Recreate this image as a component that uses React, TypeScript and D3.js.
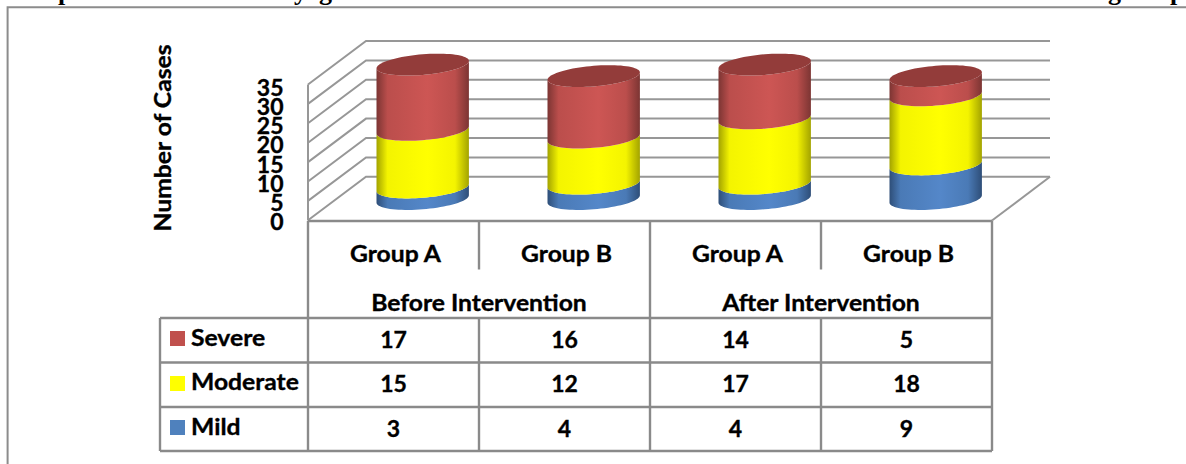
import React from "react";
import * as d3 from "d3";

const groups = ["Group A", "Group B", "Group A", "Group B"];
const phases = ["Before Intervention", "After Intervention"];
const mild = [3, 4, 4, 9];
const moderate = [15, 12, 17, 18];
const severe = [17, 16, 14, 5];
const yTicks = [0, 5, 10, 15, 20, 25, 30, 35];
const seriesNames = ["Severe", "Moderate", "Mild"];

const W = 1186, H = 464;
const INK = "#000";
const GRID = "#979797";
const FONT = "Lato, Carlito, sans-serif";

const x = d3.scaleBand<number>().domain([0, 1, 2, 3]).range([308, 992]).paddingInner(0).paddingOuter(0);
const y = d3.scaleLinear().domain([0, 35]).range([199, 64.6]);
const DX = 58, DY = 43.5; // 3D depth shift
const cylA = 46.2, cylB = 10.3, cylS = 3.7;

const palette: Record<string, { id: string; mid: string; edge: string; soft: string }> = {
  Mild: { id: "gMild", mid: "#5487c9", edge: "#2e4e78", soft: "#4a7ab6" },
  Moderate: { id: "gMod", mid: "#ffff00", edge: "#a3a300", soft: "#f4f400" },
  Severe: { id: "gSev", mid: "#cd5654", edge: "#7c3533", soft: "#bb4e4c" },
};

function rim(cx: number, cy: number, from: number, to: number, n = 40): [number, number][] {
  return d3.range(n + 1).map((i) => {
    const t = from + ((to - from) * i) / n;
    return [cx + cylA * Math.cos(t), cy - cylB * Math.sin(t) - cylS * Math.cos(t)] as [number, number];
  });
}
const line = d3.line();

function segment(cx: number, y0: number, y1: number) {
  const bottom = rim(cx, y0, Math.PI, 2 * Math.PI);
  const top = rim(cx, y1, 2 * Math.PI, Math.PI);
  return line([...bottom, ...top]) + "Z";
}

const tableRows = [
  { name: "Severe", values: severe, base: 347.6, labelBase: 345.6, sy: 331 },
  { name: "Moderate", values: moderate, base: 392.4, labelBase: 390.4, sy: 376 },
  { name: "Mild", values: mild, base: 436.6, labelBase: 434.8, sy: 420 },
];

const boldText = { fontFamily: FONT, fontWeight: "bold" as const, fill: INK, stroke: INK, strokeWidth: 0.35 };

function Stretched({ tx, ty, anchor = "middle", children }: { tx: number; ty: number; anchor?: "middle" | "start"; children: React.ReactNode }) {
  return (
    <text transform={`translate(${tx},${ty}) scale(1.05,1)`} textAnchor={anchor} fontSize={23.5} {...boldText}>
      {children}
    </text>
  );
}

export default function App() {
  const yBack = (v: number) => y(v) + (176.8 - 199) + (v / 35) * (-1.4);
  const rowLines = [318, 362.5, 407, 451];
  const colXs = [0, 1, 2, 3].map((i) => x(i)!);
  const right = x.range()[1];
  return (
    <svg width={W} height={H} viewBox={`0 0 ${W} ${H}`}
      style={{ position: "fixed", left: 0, top: 0, display: "block", background: "#fff" }}>
      <defs>
        {Object.values(palette).map((p) => (
          <linearGradient key={p.id} id={p.id} x1="0" x2="1" y1="0" y2="0">
            <stop offset="0" stopColor={p.edge} />
            <stop offset="0.12" stopColor={p.soft} />
            <stop offset="0.55" stopColor={p.mid} />
            <stop offset="0.85" stopColor={p.soft} />
            <stop offset="1" stopColor={p.edge} />
          </linearGradient>
        ))}
        <clipPath id="titleClip"><rect x="0" y="0" width={W} height="7" /></clipPath>
      </defs>

      <g clipPath="url(#titleClip)" fontFamily="'Liberation Serif', serif" fontWeight="bold" fontSize="26" fill={INK}>
        <text x="58" y="0">p</text>
        <text x="294" y="0">y</text>
        <text x="319" y="0">g</text>
        <text x="1108" y="0">g</text>
        <text x="1170" y="0">p</text>
      </g>

      <path d={`M7.6 464V7.2H${W}`} fill="none" stroke="#8c8c8c" strokeWidth="2" />

      <g fill="none" stroke={GRID} strokeWidth="2">
        {yTicks.map((t) => {
          const by = yBack(t);
          return <path key={t} d={`M${308} ${by + DY}L${308 + DX} ${by}H${1050}`} />;
        })}
        <line x1={308} x2={308} y1={yBack(35) + DY} y2={220.5} />
        <line x1={992} y1={220.5} x2={992 + DX} y2={yBack(0)} />
      </g>

      {colXs.map((cx0, i) => {
        const cx = cx0 + x.bandwidth() / 2 + 29.2;
        const a = mild[i], b = a + moderate[i], c = b + severe[i];
        return (
          <g key={i}>
            <path d={segment(cx, y(0), y(a))} fill={`url(#${palette.Mild.id})`} />
            <path d={segment(cx, y(a), y(b))} fill={`url(#${palette.Moderate.id})`} />
            <path d={segment(cx, y(b), y(c))} fill={`url(#${palette.Severe.id})`} />
            <path d={line(rim(cx, y(c), 0, 2 * Math.PI, 80)) + "Z"} fill="#933c3a" />
          </g>
        );
      })}

      <g fontSize="23" textAnchor="end" {...boldText}>
        {yTicks.map((t, i) => (
          <text key={t} x={283.5} y={229.8 - i * 19.1}>{t}</text>
        ))}
      </g>
      <text transform="translate(171,138) rotate(-90) scale(1.05,1)" textAnchor="middle" fontSize={23.5} {...boldText}>
        Number of Cases
      </text>

      <g stroke="#8a8a8a" strokeWidth="2.4" fill="none">
        <line x1={308} x2={right} y1={221} y2={221} />
        {rowLines.map((ly) => <line key={ly} x1={160} x2={right} y1={ly} y2={ly} />)}
        <line x1={160} x2={160} y1={318} y2={451} />
        <line x1={308} x2={308} y1={221} y2={451} />
        <line x1={right} x2={right} y1={221} y2={451} />
        <line x1={colXs[2]} x2={colXs[2]} y1={221} y2={451} />
        <line x1={colXs[1]} x2={colXs[1]} y1={221} y2={269.5} />
        <line x1={colXs[3]} x2={colXs[3]} y1={221} y2={269.5} />
        <line x1={colXs[1]} x2={colXs[1]} y1={318} y2={451} />
        <line x1={colXs[3]} x2={colXs[3]} y1={318} y2={451} />
      </g>

      {groups.map((g, i) => (
        <Stretched key={i} tx={colXs[i] + x.bandwidth() / 2 + 2} ty={261.6}>{g}</Stretched>
      ))}
      {phases.map((p, i) => (
        <Stretched key={p} tx={colXs[i * 2] + x.bandwidth()} ty={310.6}>{p}</Stretched>
      ))}
      <g fontSize="23" textAnchor="middle" {...boldText}>
        {tableRows.map((r) =>
          r.values.map((v, i) => (
            <text key={r.name + i} x={colXs[i] + x.bandwidth() / 2} y={r.base}>{v}</text>
          ))
        )}
      </g>
      {seriesNames.map((n) => {
        const r = tableRows.find((t) => t.name === n)!;
        return (
          <g key={n}>
            <rect x={170} y={r.sy} width={15} height={15} fill={n === "Severe" ? "#c0504d" : n === "Moderate" ? "#ffff00" : "#4f81bd"} />
            <Stretched tx={191} ty={r.labelBase} anchor="start">{n}</Stretched>
          </g>
        );
      })}
    </svg>
  );
}
